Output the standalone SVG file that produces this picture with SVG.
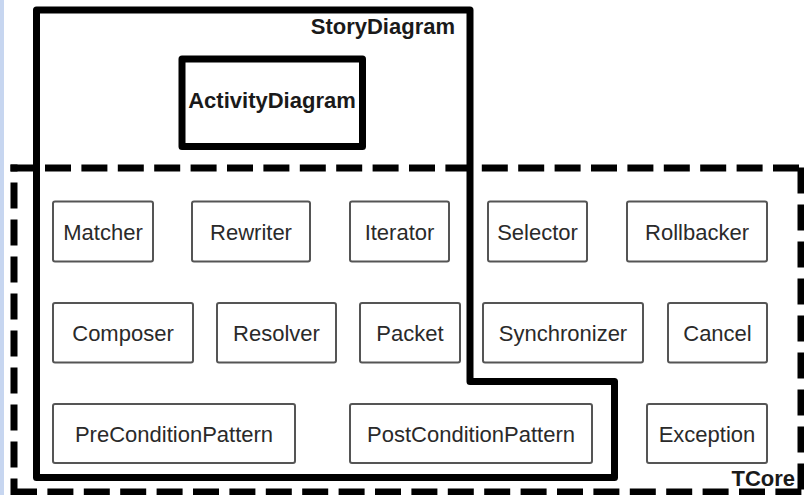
<svg xmlns="http://www.w3.org/2000/svg" width="804" height="495" viewBox="0 0 804 495">
  <style>
    .node rect { fill: #ffffff; stroke: #555555; stroke-width: 2; }
    .node text { font-family: "Liberation Sans", Arial, sans-serif; font-size: 22px; fill: #2a2a2a; text-anchor: middle; }
    .title { font-family: "Liberation Sans", Arial, sans-serif; font-size: 22px; font-weight: bold; fill: #1a1a1a; }
    .thick { fill: none; stroke: #000000; stroke-width: 7; stroke-linejoin: round; }
    .dash { fill: none; stroke: #000000; stroke-width: 7; stroke-dasharray: 26 10.4; }
    .dashv { fill: none; stroke: #000000; stroke-width: 7; stroke-dasharray: 26 11; }
  </style>

  <!-- page background and left edge strip -->
  <rect x="0" y="0" width="804" height="495" fill="#ffffff"/>
  <rect x="0" y="0" width="4" height="495" fill="#c7d6f0"/>

  <!-- TCore package: dashed frame, each side drawn separately -->
  <g id="TCore">
    <line class="dash" x1="10.5" y1="168" x2="804" y2="168" stroke-dashoffset="1.9"/>
    <line class="dash" x1="10.5" y1="492" x2="804" y2="492" stroke-dashoffset="-0.5"/>
    <line class="dashv" x1="14" y1="164.5" x2="14" y2="495" stroke-dashoffset="19"/>
    <line class="dashv" x1="801" y1="164.5" x2="801" y2="495" stroke-dashoffset="-3"/>
    <text class="title" x="795" y="486" text-anchor="end">TCore</text>
  </g>

  <!-- StoryDiagram package: stepped outline -->
  <g id="StoryDiagram">
    <path class="thick" d="M36.5,10 H470 V381.5 H614.5 V477.5 H36.5 Z"/>
    <text class="title" x="455" y="34" text-anchor="end">StoryDiagram</text>
  </g>

  <g id="ActivityDiagram">
    <rect class="thick" x="182" y="59" width="180.5" height="87.5"/>
    <text class="title" x="272" y="108" text-anchor="middle">ActivityDiagram</text>
  </g>

  <!-- row 1 -->
  <g id="Matcher" class="node"><rect x="53" y="201.5" width="100" height="60" rx="2"/><text x="103" y="239.5">Matcher</text></g>
  <g id="Rewriter" class="node"><rect x="192" y="201.5" width="118" height="60" rx="2"/><text x="251" y="239.5">Rewriter</text></g>
  <g id="Iterator" class="node"><rect x="350" y="201.5" width="99" height="60" rx="2"/><text x="399.5" y="239.5">Iterator</text></g>
  <g id="Selector" class="node"><rect x="488" y="201.5" width="99" height="60" rx="2"/><text x="537.5" y="239.5">Selector</text></g>
  <g id="Rollbacker" class="node"><rect x="627" y="201.5" width="140" height="60" rx="2"/><text x="697" y="239.5">Rollbacker</text></g>

  <!-- row 2 -->
  <g id="Composer" class="node"><rect x="53" y="303" width="140" height="59.5" rx="2"/><text x="123" y="340.5">Composer</text></g>
  <g id="Resolver" class="node"><rect x="217" y="303" width="119" height="59.5" rx="2"/><text x="276.5" y="340.5">Resolver</text></g>
  <g id="Packet" class="node"><rect x="360" y="303" width="100" height="59.5" rx="2"/><text x="410" y="340.5">Packet</text></g>
  <g id="Synchronizer" class="node"><rect x="483" y="303" width="160" height="59.5" rx="2"/><text x="563" y="340.5">Synchronizer</text></g>
  <g id="Cancel" class="node"><rect x="668" y="303" width="99" height="59.5" rx="2"/><text x="717.5" y="340.5">Cancel</text></g>

  <!-- row 3 -->
  <g id="PreConditionPattern" class="node"><rect x="53" y="404" width="242" height="59" rx="2"/><text x="174" y="441.5">PreConditionPattern</text></g>
  <g id="PostConditionPattern" class="node"><rect x="350" y="404" width="242" height="59" rx="2"/><text x="471" y="441.5">PostConditionPattern</text></g>
  <g id="Exception" class="node"><rect x="647" y="404" width="120" height="59" rx="2"/><text x="707" y="441.5">Exception</text></g>

  <g id="connectors"/>
</svg>
